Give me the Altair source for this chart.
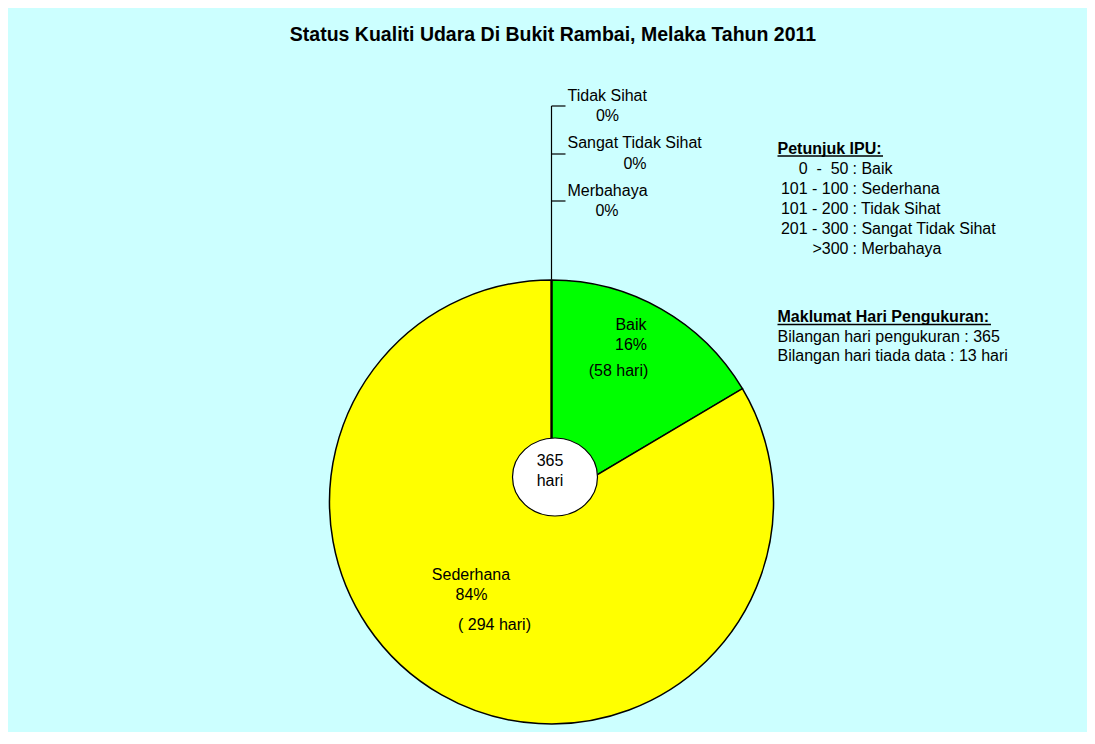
import altair as alt
import pandas as pd

# ---- data ----
categories = ["Baik", "Sederhana", "Tidak Sihat", "Sangat Tidak Sihat", "Merbahaya"]
days = [58, 294, 0, 0, 0]
slice_colors = ["#00FF00", "#FFFF00", "#FF9900", "#FF0000", "#800000"]
total_days = 365
title_text = "Status Kualiti Udara Di Bukit Rambai, Melaka Tahun 2011"
ipu_ranges = ["0\u00a0\u00a0-\u00a0\u00a050", "101 - 100", "101 - 200", "201 - 300", ">300"]
ipu_status = ["Baik", "Sederhana", "Tidak Sihat", "Sangat Tidak Sihat", "Merbahaya"]
ipu_title = "Petunjuk IPU:"
info_title = "Maklumat Hari Pengukuran:"
info_lines = ["Bilangan hari pengukuran : 365", "Bilangan hari tiada data : 13 hari"]

measured = sum(days)
percents = [f"{round(d / measured * 100)}%" for d in days]

FONT = "Liberation Sans, Arial, sans-serif"
BG = "#CCFFFF"

pie_df = pd.DataFrame({"cat": categories, "hari": days, "idx": list(range(len(days)))})

CX, CY, R = 543.5, 494, 222


def txt(s, x, y, align="left", bold=False, size=16):
    return alt.Chart(pd.DataFrame({"t": [s]})).mark_text(
        align=align, baseline="middle", fontSize=size,
        fontWeight="bold" if bold else "normal", font=FONT, color="black"
    ).encode(x=alt.value(x), y=alt.value(y), text="t:N")


def rule(x1, x2, y1, y2, w=1.2):
    return alt.Chart(pd.DataFrame({"k": [0]})).mark_rule(color="black", strokeWidth=w).encode(
        x=alt.value(x1), x2=alt.value(x2), y=alt.value(y1), y2=alt.value(y2)
    )


pie = alt.Chart(pie_df).mark_arc(stroke="black", strokeWidth=1.5).encode(
    theta=alt.Theta("hari:Q", stack=True),
    color=alt.Color("cat:N", scale=alt.Scale(domain=categories, range=slice_colors), legend=None),
    order=alt.Order("idx:Q"),
    x=alt.value(CX), y=alt.value(CY), radius=alt.value(R),
)

ellipse = alt.Chart(pd.DataFrame({"k": [0]})).mark_point(
    shape="M-1,0A1,0.918 0 1,1 1,0A1,0.918 0 1,1 -1,0Z",
    filled=True, fill="white", stroke="black", strokeWidth=1.2, opacity=1, size=85 * 85,
).encode(x=alt.value(547), y=alt.value(469))

layers = [pie, ellipse]
layers += [txt(str(total_days), 542, 453, align="center"), txt("hari", 542, 473, align="center")]
layers.append(txt(title_text, 545, 27, align="center", bold=True, size=19.5))

# leader lines for zero slices
layers.append(rule(CX, CX, 98, 271))
tick_ys = [98, 146, 193]
for ty in tick_ys:
    layers.append(rule(CX, 557.5, ty, ty))
layers += [
    txt(categories[2], 559.5, 88), txt(percents[2], 599.5, 108, align="center"),
    txt(categories[3], 559.5, 135), txt(percents[3], 627, 156, align="center"),
    txt(categories[4], 559.5, 183), txt(percents[4], 599, 203, align="center"),
]

# slice labels
layers += [
    txt(categories[0], 623, 317, align="center"),
    txt(percents[0], 623, 337, align="center"),
    txt(f"({days[0]} hari)", 610.5, 363, align="center"),
    txt(categories[1], 463, 567, align="center"),
    txt(percents[1], 463.5, 587, align="center"),
    txt(f"( {days[1]} hari)", 486.5, 617, align="center"),
]

# IPU legend
layers.append(txt(ipu_title, 769.5, 141, bold=True, size=16))
layers.append(rule(769.5, 875, 148, 148, w=1.3))
for i, (rng, st) in enumerate(zip(ipu_ranges, ipu_status)):
    y = 160.5 + 20 * i
    layers.append(txt(rng, 840.5, y, align="right", size=16))
    layers.append(txt(": " + st, 844.5, y, size=16))

layers.append(txt(info_title, 769.5, 309, bold=True, size=16))
layers.append(rule(769.5, 983, 316.5, 316.5, w=1.3))
layers.append(txt(info_lines[0], 769.5, 329, size=16))
layers.append(txt(info_lines[1], 769.5, 347.5, size=16))

chart = alt.layer(*layers).properties(
    width=1079, height=724, background=BG, padding=0, autosize="none"
).configure_view(stroke=None)

chart.save("out.html", embed_options={"renderer": "svg", "actions": False})
